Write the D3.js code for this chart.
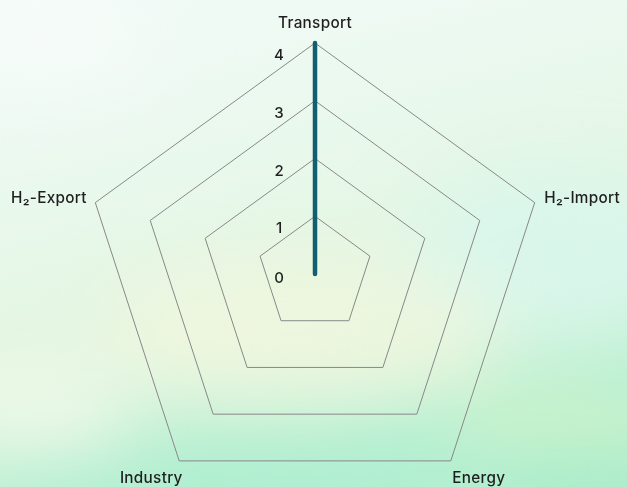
<!DOCTYPE html>
<html><head><meta charset="utf-8">
<script src="https://cdn.jsdelivr.net/npm/d3@7"></script>
<style>
html,body{margin:0;padding:0;overflow:hidden;}
svg{display:block;}
text{font-family:Inter,"Open Sans",sans-serif;fill:#1f1f1f;font-weight:500;}
</style></head>
<body>
<script>
const axes = ["Transport", "H₂-Import", "Energy", "Industry", "H₂-Export"];
const values = [4, 0, 0, 0, 0];
const levels = [0, 1, 2, 3, 4];
const tickLabels = ["0", "1", "2", "3", "4"];

const W = 627, H = 487;
const cx = 315, cy = 274, R = 231;
const svg = d3.select("body").append("svg").attr("width", W).attr("height", H);
const defs = svg.append("defs");

// background
const bg = defs.append("linearGradient").attr("id","bg").attr("x1","0").attr("y1","0").attr("x2","0.3").attr("y2","1");
[["0%","#f2fbf8"],["40%","#e9f8ec"],["70%","#e2f6e0"],["100%","#b8f0d3"]].forEach(s=>bg.append("stop").attr("offset",s[0]).attr("stop-color",s[1]));
svg.append("rect").attr("width",W).attr("height",H).attr("fill","url(#bg)");
const blur = defs.append("filter").attr("id","blur").attr("x","-50%").attr("y","-50%").attr("width","200%").attr("height","200%");
blur.append("feGaussianBlur").attr("stdDeviation",35);
const g0 = svg.append("g").attr("filter","url(#blur)");
g0.append("ellipse").attr("cx",560).attr("cy",250).attr("rx",150).attr("ry",80).attr("fill","#d8f6ec").attr("opacity",0.9);
g0.append("ellipse").attr("cx",300).attr("cy",330).attr("rx",200).attr("ry",70).attr("fill","#eff6df").attr("opacity",0.9);
g0.append("ellipse").attr("cx",40).attr("cy",410).attr("rx",90).attr("ry",40).attr("fill","#f4faec").attr("opacity",0.9);
g0.append("ellipse").attr("cx",300).attr("cy",490).attr("rx",330).attr("ry",45).attr("fill","#b0eed0").attr("opacity",1);
g0.append("ellipse").attr("cx",560).attr("cy",420).attr("rx",120).attr("ry",20).attr("fill","#dcf5c8").attr("opacity",0.9);
g0.append("ellipse").attr("cx",590).attr("cy",485).attr("rx",90).attr("ry",30).attr("fill","#9ee9c7").attr("opacity",0.9);
g0.append("ellipse").attr("cx",40).attr("cy",40).attr("rx",120).attr("ry",60).attr("fill","#f6fcfa").attr("opacity",0.9);

const r = d3.scaleLinear().domain([0, 4]).range([0, R]);
const angle = i => i * 2 * Math.PI / axes.length;
const pt = (i, v) => [cx + r(v) * Math.sin(angle(i)), cy - r(v) * Math.cos(angle(i))];

const g = svg.append("g");
// grid
levels.filter(l => l > 0).forEach(l => {
  g.append("path")
    .attr("d", d3.line()(axes.map((a, i) => pt(i, l))) + "Z")
    .attr("fill", "none").attr("stroke", "#888").attr("stroke-width", 1);
});

// data
const radial = d3.lineRadial().angle((d, i) => angle(i)).radius(d => r(d)).curve(d3.curveLinearClosed);
g.append("path")
  .attr("transform", `translate(${cx},${cy})`)
  .attr("d", radial(values))
  .attr("fill", "none").attr("stroke", "#125f72").attr("stroke-width", 4.5)
  .attr("stroke-linejoin", "round").attr("stroke-linecap", "round");

// tick labels
g.selectAll(".tick").data(levels).enter().append("text")
  .attr("x", cx - 36)
  .attr("y", d => cy - r(d) + (d === 0 ? 9 : 17))
  .attr("text-anchor", "middle")
  .style("font-size", "15px")
  .text((d, i) => tickLabels[i]);

// axis labels
axes.forEach((a, i) => {
  const [x, y] = pt(i, 4);
  const s = Math.sin(angle(i)), c = Math.cos(angle(i));
  let anchor = "middle", dx = 0, dy = 0;
  if (c > 0.9) { dy = -15; }
  else if (c > 0) { anchor = s > 0 ? "start" : "end"; dx = s > 0 ? 9.5 : -8.5; dy = 0; }
  else { anchor = s > 0 ? "start" : "end"; dx = s > 0 ? 1.5 : 3.5; dy = 22; }
  g.append("text").attr("x", x + dx).attr("y", y + dy)
    .attr("text-anchor", anchor).style("font-size", "15.3px").style("letter-spacing", "0.3px")
    .text(a);
});
</script>
</body></html>
